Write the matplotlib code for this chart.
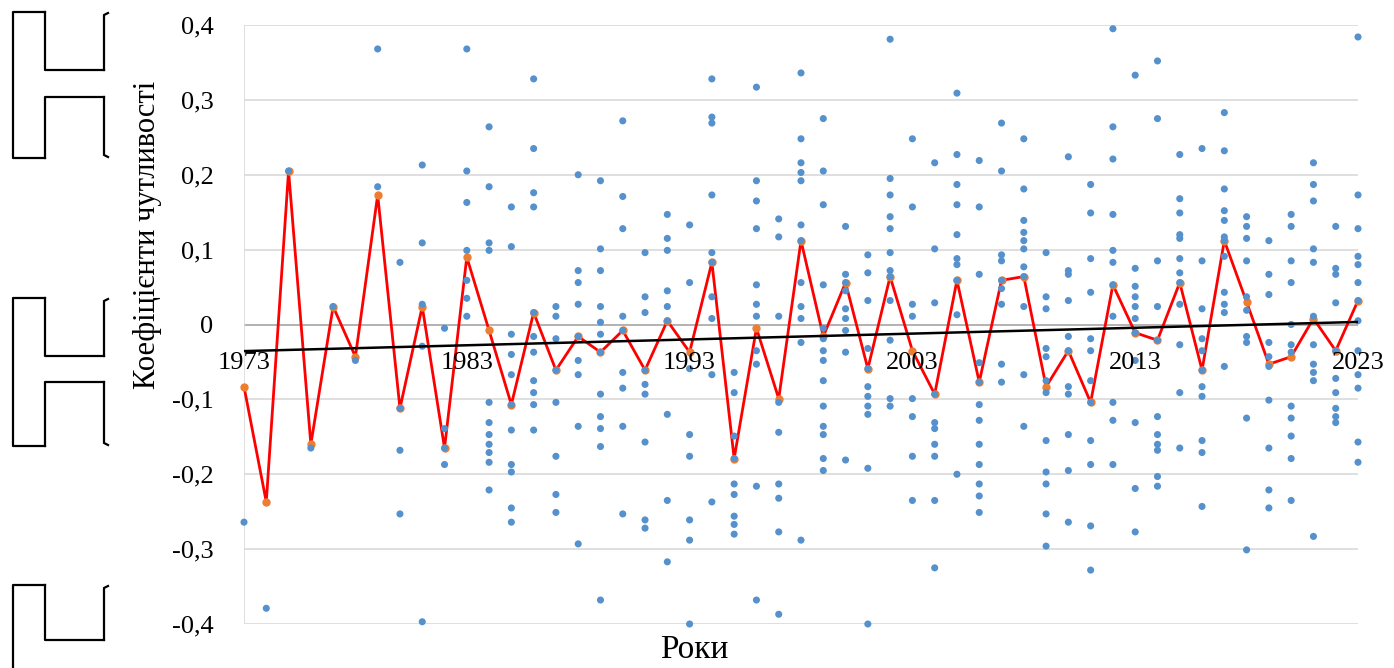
import numpy as np
import matplotlib
matplotlib.use("Agg")
import matplotlib.pyplot as plt
from matplotlib.lines import Line2D

plt.rcParams['font.family'] = ['Liberation Serif', 'DejaVu Serif']

years = list(range(1973, 2024))

# yearly mean sensitivity coefficient (red line)
mean_coef = [-0.083, -0.237, 0.205, -0.160, 0.024, -0.043, 0.173, -0.112, 0.024, -0.165,
             0.090, -0.008, -0.107, 0.016, -0.061, -0.016, -0.037, -0.008, -0.061, 0.005,
             -0.037, 0.083, -0.179, -0.005, -0.099, 0.112, -0.016, 0.056, -0.059, 0.064,
             -0.035, -0.093, 0.059, -0.077, 0.059, 0.064, -0.083, -0.035, -0.104, 0.053,
             -0.011, -0.021, 0.056, -0.061, 0.112, 0.030, -0.053, -0.043, 0.008, -0.035,
             0.032]

# individual coefficients per year (blue dots)
coef_by_year = [
    [-0.264],
    [-0.379],
    [0.205],
    [-0.165],
    [0.024],
    [-0.048],
    [0.368, 0.184],
    [0.083, -0.112, -0.168, -0.253],
    [0.213, 0.109, 0.027, -0.029, -0.397],
    [-0.005, -0.139, -0.165, -0.187],
    [0.368, 0.205, 0.163, 0.099, 0.059, 0.035, 0.011],
    [0.264, 0.184, 0.109, 0.099, -0.104, -0.131, -0.147, -0.160, -0.171, -0.184, -0.221],
    [0.157, 0.104, -0.013, -0.040, -0.067, -0.107, -0.141, -0.187, -0.197, -0.245, -0.264],
    [0.328, 0.235, 0.176, 0.157, 0.016, -0.016, -0.037, -0.075, -0.091, -0.107, -0.141],
    [0.024, 0.011, -0.019, -0.061, -0.104, -0.176, -0.227, -0.251],
    [0.200, 0.072, 0.056, 0.027, -0.016, -0.048, -0.067, -0.136, -0.293],
    [0.192, 0.101, 0.072, 0.024, 0.003, -0.013, -0.037, -0.093, -0.123, -0.139, -0.163, -0.368],
    [0.272, 0.171, 0.128, 0.011, -0.008, -0.064, -0.085, -0.136, -0.253],
    [0.096, 0.037, 0.016, -0.061, -0.080, -0.093, -0.157, -0.261, -0.272],
    [0.147, 0.115, 0.099, 0.045, 0.024, 0.005, -0.120, -0.235, -0.317],
    [0.133, 0.056, -0.059, -0.147, -0.176, -0.261, -0.288, -0.400],
    [0.328, 0.277, 0.269, 0.173, 0.096, 0.083, 0.037, 0.008, -0.067, -0.237],
    [-0.064, -0.091, -0.149, -0.179, -0.213, -0.227, -0.256, -0.267, -0.280],
    [0.317, 0.192, 0.165, 0.128, 0.053, 0.027, 0.011, -0.035, -0.053, -0.216, -0.368],
    [0.141, 0.117, 0.011, -0.104, -0.144, -0.213, -0.232, -0.277, -0.387],
    [0.336, 0.248, 0.216, 0.203, 0.192, 0.133, 0.112, 0.056, 0.024, 0.008, -0.024, -0.288],
    [0.275, 0.205, 0.160, 0.053, -0.005, -0.019, -0.035, -0.048, -0.075, -0.109, -0.136, -0.147, -0.179, -0.195],
    [0.131, 0.067, 0.056, 0.045, 0.021, 0.008, -0.008, -0.037, -0.181],
    [0.093, 0.069, 0.032, -0.032, -0.059, -0.083, -0.096, -0.109, -0.120, -0.192, -0.400],
    [0.381, 0.195, 0.173, 0.144, 0.128, 0.096, 0.072, 0.064, 0.032, -0.021, -0.099, -0.109],
    [0.248, 0.157, 0.027, 0.011, -0.099, -0.123, -0.176, -0.235],
    [0.216, 0.101, 0.029, -0.093, -0.131, -0.139, -0.160, -0.176, -0.235, -0.325],
    [0.309, 0.227, 0.187, 0.160, 0.120, 0.088, 0.080, 0.059, 0.013, -0.200],
    [0.219, 0.157, 0.067, -0.051, -0.077, -0.107, -0.128, -0.160, -0.187, -0.213, -0.229, -0.251],
    [0.269, 0.205, 0.093, 0.085, 0.059, 0.048, 0.027, -0.053, -0.077],
    [0.248, 0.181, 0.139, 0.123, 0.112, 0.101, 0.077, 0.064, 0.024, -0.067, -0.136],
    [0.096, 0.037, 0.021, -0.032, -0.043, -0.075, -0.091, -0.155, -0.197, -0.213, -0.253, -0.296],
    [0.224, 0.072, 0.067, 0.032, -0.016, -0.035, -0.083, -0.093, -0.147, -0.195, -0.264],
    [0.187, 0.149, 0.088, 0.043, -0.019, -0.035, -0.075, -0.104, -0.155, -0.187, -0.269, -0.328],
    [0.395, 0.264, 0.221, 0.147, 0.099, 0.083, 0.053, 0.011, -0.104, -0.128, -0.187],
    [0.333, 0.075, 0.051, 0.037, 0.024, 0.008, -0.011, -0.048, -0.131, -0.219, -0.277],
    [0.352, 0.275, 0.085, 0.024, -0.021, -0.123, -0.147, -0.160, -0.168, -0.203, -0.216],
    [0.227, 0.168, 0.149, 0.120, 0.115, 0.088, 0.069, 0.056, 0.027, -0.027, -0.091, -0.165],
    [0.235, 0.085, 0.021, -0.019, -0.035, -0.061, -0.083, -0.096, -0.155, -0.171, -0.243],
    [0.283, 0.232, 0.181, 0.152, 0.139, 0.117, 0.112, 0.091, 0.043, 0.027, 0.016, -0.056],
    [0.144, 0.131, 0.115, 0.085, 0.037, 0.019, -0.016, -0.024, -0.125, -0.301],
    [0.112, 0.067, 0.040, -0.024, -0.043, -0.056, -0.101, -0.165, -0.221, -0.245],
    [0.147, 0.131, 0.085, 0.056, 0.000, -0.027, -0.037, -0.109, -0.125, -0.149, -0.179, -0.235],
    [0.216, 0.187, 0.165, 0.101, 0.083, 0.011, -0.027, -0.053, -0.064, -0.075, -0.283],
    [0.131, 0.075, 0.067, 0.029, -0.035, -0.072, -0.091, -0.112, -0.123, -0.131],
    [0.384, 0.173, 0.128, 0.091, 0.080, 0.056, 0.032, 0.005, -0.035, -0.067, -0.085, -0.157, -0.184],
]

year_ticks = [1973, 1983, 1993, 2003, 2013, 2023]
y_ticks = [0.4, 0.3, 0.2, 0.1, 0.0, -0.1, -0.2, -0.3, -0.4]


def fmt_tick(v):
    if abs(v) < 1e-9:
        return "0"
    return ("%.1f" % v).replace(".", ",")


def draw_bracket(fig, top, inner_top, inner_bottom, bottom):
    # decorative outline shapes on the left edge (pixel coords, y from top)
    H = 668.0
    def seg(xs, ys):
        fig.add_artist(Line2D([x / 1394.0 for x in xs], [1 - y / H for y in ys],
                              color="black", lw=1.6, transform=fig.transFigure))
    seg([45, 13, 13, 45], [top, top, bottom, bottom] if bottom is not None else [top, top, H + 5, H + 5])
    seg([45, 45, 104], [top, inner_top, inner_top])
    seg([108, 104, 104], [top + 1, top + 3, inner_top])
    if inner_bottom is not None:
        seg([104, 45, 45], [inner_bottom, inner_bottom, bottom])
        seg([104, 104, 108], [inner_bottom, bottom - 3, bottom - 1])


fig = plt.figure(figsize=(13.94, 6.68), dpi=100)
ax = fig.add_axes([244 / 1394, 1 - 624 / 668, (1358 - 244) / 1394, (624 - 25) / 668])

# grid
for v in y_ticks:
    ax.axhline(v, color="#a6a6a6" if v == 0 else "#d9d9d9", lw=1.2, zorder=1)
ax.axvline(1973, color="#d9d9d9", lw=1.2, zorder=1)

# yearly means
ax.plot(years, mean_coef, color="#ff0000", lw=2.0, marker="o", markersize=5,
        markerfacecolor="#ed7d31", markeredgecolor="#ed7d31", zorder=3, clip_on=False)

# individual coefficients
xs = [y for y, vals in zip(years, coef_by_year) for _ in vals]
ys = [v for vals in coef_by_year for v in vals]
ax.scatter(xs, ys, s=26, color="#5591cc", edgecolors="none", zorder=4, clip_on=False)

# linear trend of yearly means
k, b = np.polyfit(years, mean_coef, 1)
ax.plot([years[0], years[-1]], [k * years[0] + b, k * years[-1] + b],
        color="black", lw=1.8, zorder=5)

ax.set_xlim(1973, 2023)
ax.set_ylim(-0.4, 0.4)
ax.set_xticks([])
ax.set_yticks(y_ticks)
ax.set_yticklabels([fmt_tick(v) for v in y_ticks], fontsize=19)
ax.tick_params(axis="y", length=0, pad=22)
for s in ax.spines.values():
    s.set_visible(False)

for yr in year_ticks:
    ax.text(yr, -0.052, str(yr), ha="center", va="center", fontsize=19, zorder=6)

fig.text(147 / 1394, 1 - 235 / 668, "Коефіцієнти чутливості", rotation=90,
         ha="center", va="center", fontsize=22)
fig.text(694 / 1394, 1 - 650 / 668, "Роки", ha="center", va="center", fontsize=24)

draw_bracket(fig, 12, 70, 97, 158)
draw_bracket(fig, 298, 356, 382, 446)
draw_bracket(fig, 585, 640, None, None)

fig.savefig("out.png", dpi=100)
